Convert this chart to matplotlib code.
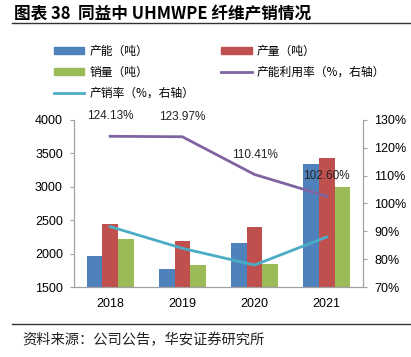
import numpy as np
import matplotlib
matplotlib.use('Agg')
import matplotlib.pyplot as plt
from matplotlib.lines import Line2D
from matplotlib.patches import Patch

plt.rcParams['font.family'] = ['Liberation Sans', 'Noto Sans CJK SC', 'DejaVu Sans']

#%% DATA
years = ['2018', '2019', '2020', '2021']
capacite = [1970, 1765, 2163, 3337]   # 产能（吨）
production = [2443, 2189, 2398, 3427]  # 产量（吨）
ventes = [2219, 1829, 1849, 2993]      # 销量（吨）
taux_util = [124.13, 123.97, 110.41, 102.60]  # 产能利用率 %
taux_vente = [91.7, 83.9, 77.9, 88.0]          # 产销率 %

blue = '#4F81BD'
red = '#C0504D'
green = '#9BBB59'
purple = '#8064A2'
cyan = '#4BACC6'

#%% PLOT
fig = plt.figure(figsize=(4.11, 3.57), dpi=100)
ax = fig.add_axes([0.180, 0.196, 0.703, 0.468])
ax2 = ax.twinx()

x = np.arange(len(years))
w = 0.216
ax.bar(x - w, capacite, w, color=blue)
ax.bar(x, production, w, color=red)
ax.bar(x + w, ventes, w, color=green)

ax.set_ylim(1500, 4000)
ax.set_yticks(np.arange(1500, 4001, 500))
ax.set_xlim(-0.5, 3.5)
ax.set_xticks(x)
ax.set_xticklabels(years)

ax2.plot(x, taux_util, color=purple, lw=2)
ax2.plot(x, taux_vente, color=cyan, lw=2)
ax2.set_ylim(70, 130)
ax2.set_yticks(np.arange(70, 131, 10))
ax2.set_yticklabels(['%d%%' % v for v in range(70, 131, 10)])

for xi, v in zip(x, taux_util):
    ax2.annotate('%.2f%%' % v, (xi, v), xytext=(0, 10), textcoords='offset points',
                 ha='center', va='bottom', fontsize=8.5, color='#222222')

for a in (ax, ax2):
    a.spines['top'].set_visible(False)
    for s in ('left', 'right', 'bottom'):
        a.spines[s].set_color('#A0A0A0')
        a.spines[s].set_linewidth(0.8)
    a.tick_params(labelsize=9, length=3, color='#A0A0A0', labelcolor='black', pad=5)
ax.tick_params(axis='x', length=0, pad=8)

# legend (row-major order as in the original)
handles = [Patch(color=blue), Patch(color=green), Line2D([], [], color=cyan, lw=2),
           Patch(color=red), Line2D([], [], color=purple, lw=2)]
labels = ['产能（吨）', '销量（吨）', '产销率（%，右轴）', '产量（吨）', '产能利用率（%，右轴）']
leg = fig.legend(handles, labels, ncol=2, loc='upper left', bbox_to_anchor=(0.105, 0.905),
                 frameon=False, handlelength=2.6, handleheight=0.5,
                 columnspacing=2.3, labelspacing=0.7, handletextpad=0.4,
                 prop={'family': ['Noto Sans CJK SC'], 'size': 8.5})

# title and source
fig.text(0.034, 0.985, '图表 38  同益中 UHMWPE 纤维产销情况', fontsize=12, fontweight='bold',
         va='top', ha='left', family=['Noto Sans CJK SC'])
fig.add_artist(Line2D([0.03, 1.0], [0.935, 0.935], color='#333333', lw=1))
fig.add_artist(Line2D([0.03, 1.0], [0.092, 0.092], color='#333333', lw=1))
fig.text(0.055, 0.048, '资料来源：公司公告，华安证券研究所', fontsize=10.3, va='center', ha='left',
         family=['Noto Sans CJK SC'], color='#222222')

fig.savefig('out.png', dpi=100)
